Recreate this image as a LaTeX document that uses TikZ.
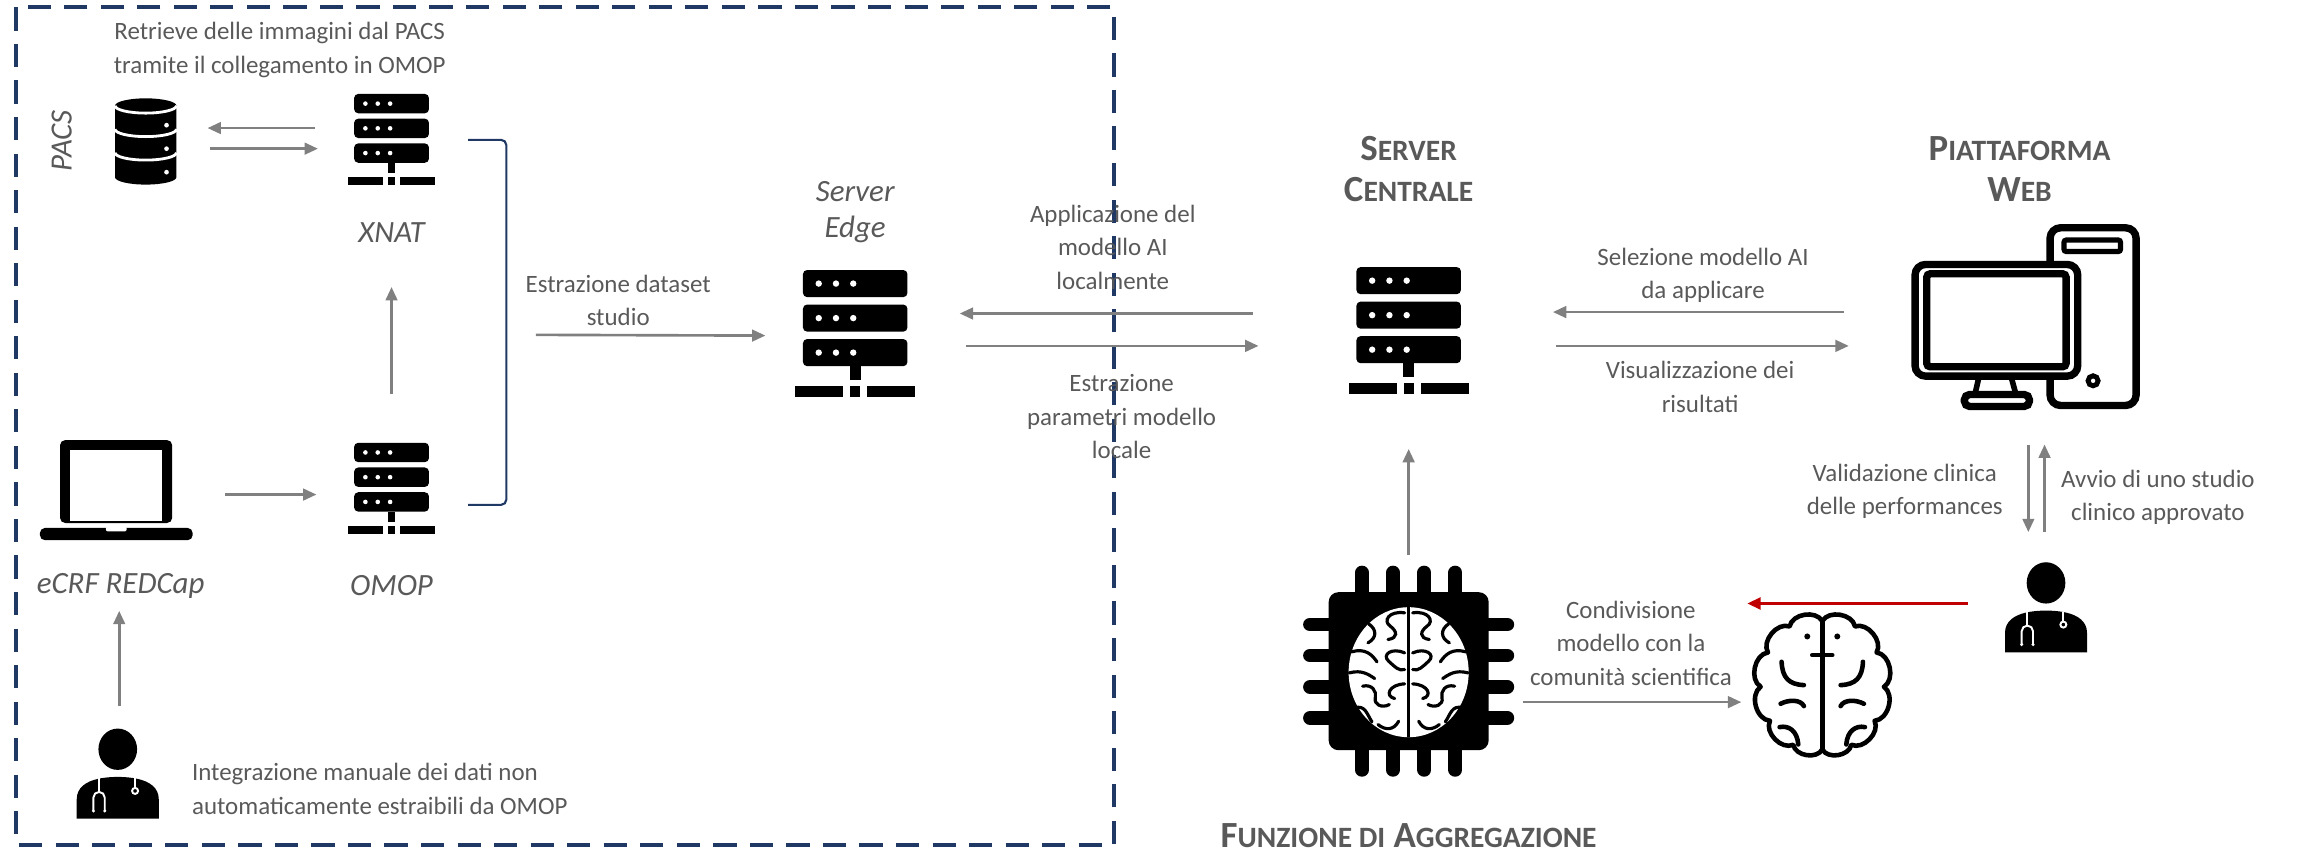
\documentclass[tikz,border=0pt]{standalone}
\usepackage{fontspec}
\setmainfont{Carlito}
\usetikzlibrary{arrows.meta,calc}

\definecolor{txtgray}{HTML}{595959}
\definecolor{arrgray}{HTML}{808080}
\definecolor{navyline}{HTML}{203864}
\definecolor{redline}{HTML}{C00000}

% one drawing unit
\newcommand{\Su}{0.01472cm}
% hand-made small capitals
\newcommand{\smc}[1]{{\fontsize{8.4}{11.7}\selectfont #1}}

\tikzset{
  lbl/.style={font=\fontsize{7.1}{9.5}\selectfont, text=txtgray, align=center, inner sep=0pt},
  ilbl/.style={font=\fontsize{8.8}{10.2}\selectfont\itshape, text=txtgray, align=center, inner sep=0pt},
  ttl/.style={font=\fontsize{10.5}{11.7}\selectfont\bfseries, text=txtgray, align=center, inner sep=0pt},
  arr/.style={draw=arrgray, line width=0.75pt, -{Triangle[length=3.8pt,width=3.3pt]}},
  redarr/.style={draw=redline, line width=0.9pt, -{Triangle[length=3.8pt,width=3.3pt]}},
  zone/.style={draw=navyline, line width=1.15pt, dash pattern=on 6.6pt off 3.8pt},
  bracketline/.style={draw=navyline, line width=0.6pt, rounded corners=1.5pt},
  iconbox/.style 2 args={minimum width={#1*\Su}, minimum height={#2*\Su}, inner sep=0pt, outer sep=0pt},
  % rack server
  pics/serverpic/.style={code={
    \foreach \yy in {-130,-60,10}{
      \fill[rounded corners=1.2pt] (-106,\yy) rectangle (106,\yy+55);
      \foreach \dd in {-74,-39,-4}{\fill[white] (\dd,\yy+27.5) circle (6.5);}
    }
    \fill (-11,65) rectangle (11,93);
    \fill (-122,106) rectangle (-24,128);
    \fill (-10,106) rectangle (10,128);
    \fill (24,106) rectangle (122,128);
  }},
  % database cylinder
  pics/dbpic/.style={code={
    \fill (-91.5,-106) arc[start angle=180, end angle=360, x radius=91.5, y radius=22]
      -- (91.5,107) arc[start angle=0, end angle=180, x radius=91.5, y radius=22] -- cycle;
    \foreach \yy in {-106,-36,34}{
      \draw[white, line width=0.8pt] (-91.5,\yy) arc[start angle=180, end angle=0, x radius=91.5, y radius=22];
    }
    \foreach \yy in {-48,22,92}{\fill[white] (62,\yy) circle (7);}
  }},
  % doctor with stethoscope
  pics/docpic/.style={code={
    \fill (0,-75) ellipse [x radius=58, y radius=62];
    \fill (-123,133) -- (-123,75) .. controls (-123,40) and (-95,22) .. (-60,14)
      .. controls (-25,6) and (25,6) .. (60,14)
      .. controls (95,22) and (123,40) .. (123,75) -- (123,133) -- cycle;
    \draw[white, line width=0.55pt] (-56,12) -- (-56,53);
    \draw[white, line width=0.55pt] (-73,108) -- (-73,70) arc[start angle=180, end angle=360, radius=17] -- (-39,108);
    \fill[white] (-73,110) circle (5) (-39,110) circle (5);
    \draw[white, line width=0.55pt] (52,12) -- (52,40);
    \draw[white, line width=0.55pt] (52,50) circle (9);
  }},
  % laptop
  pics/laptoppic/.style={code={
    \fill[rounded corners=1.5pt] (-173,-154) rectangle (172,101);
    \fill[white] (-143,-122) rectangle (142,96);
    \fill[rounded corners=1.5pt] (-235,116) rectangle (235,154);
    \fill[white, rounded corners=0.6pt] (-32,112) rectangle (32,127);
  }},
  % processor with brain
  pics/chippic/.style={code={
    \fill[rounded corners=2.8pt] (-240,-237) rectangle (240,237);
    \foreach \p in {-140,-47,47,140}{
      \draw[line width=3.9pt, line cap=round] (\p,-296) -- (\p,-230);
      \draw[line width=3.9pt, line cap=round] (\p,296) -- (\p,230);
      \draw[line width=3.9pt, line cap=round] (-296,\p) -- (-230,\p);
      \draw[line width=3.9pt, line cap=round] (296,\p) -- (230,\p);
    }
    \fill[white] (0,3) ellipse [x radius=180, y radius=195];
    \draw[line width=0.9pt] (0,-192) -- (0,198);
    \foreach \sx in {1,-1}{
      \begin{scope}[xscale=\sx, line width=0.9pt, line cap=round]
        \draw (-12,-175) .. controls (-60,-182) and (-78,-150) .. (-55,-135)
              .. controls (-35,-120) and (-30,-100) .. (-62,-95);
        \draw (-120,-142) .. controls (-95,-125) and (-95,-100) .. (-122,-85);
        \draw (-172,-58) .. controls (-130,-70) and (-110,-50) .. (-95,-28);
        \draw (-12,-55) .. controls (-50,-72) and (-82,-50) .. (-60,-30)
              .. controls (-40,-12) and (-30,0) .. (-12,-5);
        \draw (-178,5) .. controls (-140,-5) and (-120,10) .. (-102,22);
        \draw (-138,45) .. controls (-110,38) and (-95,60) .. (-100,80)
              .. controls (-105,100) and (-80,112) .. (-58,100);
        \draw (-12,38) .. controls (-60,40) and (-72,75) .. (-42,82);
        \draw (-162,110) .. controls (-130,100) and (-125,130) .. (-110,152);
        \draw (-92,160) .. controls (-70,178) and (-45,178) .. (-30,150);
      \end{scope}
    }
  }},
  % brain outline
  pics/brainpic/.style={code={
    \begin{scope}[line width=1.3pt, line cap=round, line join=round]
      \draw (0,-190) to[bend right=70] (-98,-174) to[bend right=70] (-163,-96)
        to[bend right=70] (-185,7) to[bend right=70] (-157,109)
        to[bend right=70] (-87,181) to[bend right=70] (0,195);
      \draw (0,-190) to[bend left=70] (98,-174) to[bend left=70] (163,-96)
        to[bend left=70] (185,7) to[bend left=70] (157,109)
        to[bend left=70] (87,181) to[bend left=70] (0,195);
      \draw (0,-190) -- (0,195);
      \draw (-30,-88) -- (30,-88);
      \fill (-45,-144) circle (9) (45,-144) circle (9);
      \draw (-122,-68) .. controls (-120,-20) and (-100,0) .. (-55,2);
      \draw (122,-68) .. controls (120,-20) and (100,0) .. (55,2);
      \draw (-125,58) .. controls (-100,45) and (-65,45) .. (-55,65);
      \draw (125,58) .. controls (100,45) and (65,45) .. (55,65);
      \draw (-128,128) .. controls (-100,122) and (-75,140) .. (-72,180);
      \draw (128,128) .. controls (100,122) and (75,140) .. (72,180);
    \end{scope}
  }},
  % desktop computer
  pics/computerpic/.style={code={
    \draw[line width=2.1pt, fill=white, rounded corners=3pt] (74,-266) rectangle (332,267);
    \draw[line width=1.5pt, rounded corners=0.6pt] (116,-229) rectangle (285,-195);
    \draw[line width=1.4pt] (203,193) circle (15);
    \draw[line width=1.6pt] (-140,184) -- (-150,228) (-42,184) -- (-30,228);
    \draw[line width=2.1pt, fill=white, rounded corners=3pt] (-331,-156) rectangle (157,179);
    \draw[line width=2.1pt, rounded corners=1pt] (-296,-128) rectangle (122,151);
    \draw[line width=2.1pt, fill=white, rounded corners=1.5pt] (-183,234) rectangle (12,270);
  }}
}

\begin{document}
\begin{tikzpicture}[x=0.01472cm, y=-0.01472cm]
\useasboundingbox (0,0) rectangle (1568,579);

% local site area
\draw[zone] (11,5) rectangle (757,574);

% ---------- icons ----------
\node[iconbox={42}{60}] (pacs) at (99,96) {};
\pic[scale=0.228] at (pacs) {dbpic};
\node[iconbox={58}{62}] (xnat) at (266,95) {};
\pic[scale=0.24] at (xnat) {serverpic};
\node[iconbox={58}{62}] (omop) at (266,332) {};
\pic[scale=0.24] at (omop) {serverpic};
\node[iconbox={104}{68}] (laptop) at (79,333) {};
\pic[scale=0.221] at (laptop) {laptoppic};
\node[iconbox={56}{61}] (docA) at (80,526) {};
\pic[scale=0.2265] at (docA) {docpic};
\node[iconbox={82}{86}] (edge) at (581,227) {};
\pic[scale=0.335] at (edge) {serverpic};
\node[iconbox={82}{86}] (central) at (957,225) {};
\pic[scale=0.335] at (central) {serverpic};
\node[iconbox={158}{126}] (comp) at (1376,215) {};
\pic[scale=0.2265] at (comp) {computerpic};
\node[iconbox={144}{144}] (chip) at (957,456) {};
\pic[scale=0.2265] at (chip) {chippic};
\node[iconbox={94}{103}] (brainB) at (1238,465) {};
\pic[scale=0.2265] at (brainB) {brainpic};
\node[iconbox={56}{61}] (docB) at (1390,413) {};
\pic[scale=0.2265] at (docB) {docpic};

% ---------- texts ----------
\node[lbl] (tRetrieve) at (190,34) {Retrieve delle immagini dal PACS\\tramite il collegamento in OMOP};
\node[ilbl, rotate=90] (lPacs) at (42,96) {PACS};
\node[ilbl] (lXnat) at (266,158) {XNAT};
\node[ilbl] (lEcrf) at (82,398) {eCRF REDCap};
\node[ilbl] (lOmop) at (266,398) {OMOP};
\node[lbl, align=left, anchor=west] (tIntegr) at (130,536) {Integrazione manuale dei dati non\\automaticamente estraibili da OMOP};
\node[lbl] (tEstraz) at (420,204) {Estrazione dataset\\studio};
\node[ilbl] (lEdge) at (581,144) {Server\\Edge};
\node[lbl] (tAppl) at (756,168) {Applicazione del\\modello AI\\localmente};
\node[lbl] (tParam) at (762,283) {Estrazione\\parametri modello\\locale};
\node[ttl] (hCentral) at (957,115) {S\smc{ERVER}\\C\smc{ENTRALE}};
\node[lbl] (tSelez) at (1157,187) {Selezione modello AI\\da applicare};
\node[lbl] (tVisual) at (1155,263) {Visualizzazione dei\\risultati};
\node[ttl] (hWeb) at (1372,115) {P\smc{IATTAFORMA}\\W\smc{EB}};
\node[lbl] (tValid) at (1294,334) {Validazione clinica\\delle performances};
\node[lbl] (tAvvio) at (1466,338) {Avvio di uno studio\\clinico approvato};
\node[lbl] (tCond) at (1108,437) {Condivisione\\modello con la\\comunità scientifica};
\node[ttl] (hFunz) at (957,568) {F\smc{UNZIONE DI} A\smc{GGREGAZIONE}};

% ---------- connectors ----------
\draw[arr] ([shift={(-23,-8)}]xnat.west) -- ([shift={(21,-9)}]pacs.east);
\draw[arr] ([shift={(23,5)}]pacs.east) -- ([shift={(-21,6)}]xnat.west);
\draw[arr] ([shift={(0,-33)}]omop.north) -- ([shift={(0,69)}]xnat.south);
\draw[arr] ([shift={(22,3)}]laptop.east) -- ([shift={(-22,4)}]omop.west);
\draw[arr] ([shift={(1,-16)}]docA.north) -- ([shift={(2,48)}]laptop.south);

\draw[bracketline] ([shift={(23,0)}]xnat.east) -- ++(26,0) |- ([shift={(23,11)}]omop.east);
\coordinate (brk) at ($(xnat.east)!0.5!(omop.east)+(49,0)$);
\draw[arr] ([shift={(20,14)}]brk) -- ([shift={(-20,1)}]edge.west);

\draw[arr] ([shift={(-65,-12)}]central.west) -- ([shift={(30,-14)}]edge.east);
\draw[arr] ([shift={(34,8)}]edge.east) -- ([shift={(-61,10)}]central.west);

\draw[arr] ([shift={(-44,-3)}]comp.west) -- ([shift={(57,-13)}]central.east);
\draw[arr] ([shift={(59,10)}]central.east) -- ([shift={(-41,20)}]comp.west);

\draw[arr] ([shift={(0,-7)}]chip.north) -- ([shift={(0,37)}]central.south);
\draw[arr] ([shift={(6,21)}]chip.east) -- ([shift={(-8,12)}]brainB.west);

\draw[arr] ([shift={(2,24)}]comp.south) -- ([shift={(-12,-21)}]docB.north);
\draw[arr] ([shift={(-1,-21)}]docB.north) -- ([shift={(13,24)}]comp.south);

\draw[redarr] ([shift={(-25,-3)}]docB.west) -- ([shift={(-4,-55)}]brainB.west);
\end{tikzpicture}
\end{document}
